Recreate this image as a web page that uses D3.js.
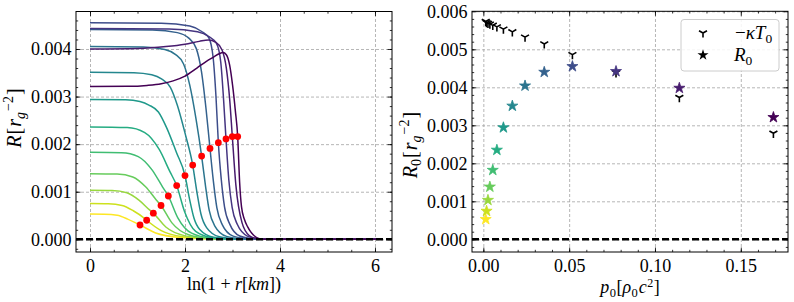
<!DOCTYPE html>
<html><head><meta charset="utf-8">
<script src="https://cdn.jsdelivr.net/npm/d3@7"></script>
<style>
body{margin:0;background:#fff;}
svg text{font-family:"Liberation Serif","DejaVu Serif",serif;fill:#000;}
</style></head><body>
<svg id="c" width="794" height="302"></svg>
<script>
// ---------------- DATA ----------------
// Left panel: R(r) profiles, one per central pressure (index 0 = lowest p0, yellow)
const profiles = [
 [[0,0.53e-3],[0.303,0.527e-3],[0.573,0.504e-3],[0.793,0.424e-3],[1.013,0.318e-3],[1.053,0.30e-3],[1.383,0.133e-3],[1.903,0.037e-3],[2.503,0.008e-3],[2.953,0.0016e-3],[3.6,0],[6.06,0]],
 [[0,0.75e-3],[0.385,0.746e-3],[0.675,0.7125e-3],[0.911,0.60e-3],[1.133,0.45e-3],[1.193,0.40e-3],[1.49,0.1875e-3],[1.953,0.0525e-3],[2.501,0.0113e-3],[2.943,0.0023e-3],[3.6,0],[6.06,0]],
 [[0,1.03e-3],[0.466,1.025e-3],[0.776,0.979e-3],[1.03,0.824e-3],[1.253,0.618e-3],[1.333,0.55e-3],[1.596,0.258e-3],[2.003,0.072e-3],[2.5,0.0155e-3],[2.933,0.0031e-3],[3.6,0],[6.06,0]],
 [[0,1.38e-3],[0.57,1.373e-3],[0.9,1.311e-3],[1.17,1.104e-3],[1.395,0.828e-3],[1.495,0.71e-3],[1.725,0.345e-3],[2.075,0.0966e-3],[2.52,0.0207e-3],[2.945,0.0041e-3],[3.6,0],[6.06,0]],
 [[0,1.83e-3],[0.666,1.821e-3],[1.016,1.739e-3],[1.302,1.464e-3],[1.529,1.098e-3],[1.649,0.91e-3],[1.846,0.4575e-3],[2.139,0.128e-3],[2.532,0.0275e-3],[2.949,0.0055e-3],[3.6,0],[6.06,0]],
 [[0,2.36e-3],[0.783,2.348e-3],[1.153,2.242e-3],[1.457,1.888e-3],[1.685,1.416e-3],[1.825,1.13e-3],[1.988,0.59e-3],[2.225,0.165e-3],[2.567,0.0354e-3],[2.975,0.0071e-3],[3.6,0],[6.06,0]],
 [[0,2.94e-3],[0.75,2.934e-3],[1.05,2.896e-3],[1.24,2.822e-3],[1.44,2.675e-3],[1.61,2.352e-3],[1.82,1.823e-3],[2.0,1.34e-3],[2.10,0.823e-3],[2.19,0.441e-3],[2.31,0.206e-3],[2.6,0.044e-3],[3.0,0.0088e-3],[3.6,0],[6.06,0]],
 [[0,3.51e-3],[0.9245,3.503e-3],[1.2995,3.457e-3],[1.5045,3.370e-3],[1.692,3.194e-3],[1.842,2.808e-3],[2.0145,2.176e-3],[2.162,1.56e-3],[2.252,0.983e-3],[2.337,0.5265e-3],[2.4545,0.2457e-3],[2.7245,0.0527e-3],[3.087,0.0105e-3],[3.6,0],[6.06,0]],
 [[0,4.05e-3],[1.125,4.042e-3],[1.575,3.989e-3],[1.795,3.888e-3],[1.97,3.686e-3],[2.10,3.24e-3],[2.235,2.511e-3],[2.35,1.75e-3],[2.43,1.134e-3],[2.51,0.6075e-3],[2.625,0.2835e-3],[2.875,0.0608e-3],[3.2,0.0122e-3],[3.6,0],[6.06,0]],
 [[0,4.41e-3],[1.3135,4.401e-3],[1.8385,4.344e-3],[2.0735,4.234e-3],[2.236,4.013e-3],[2.346,3.528e-3],[2.4435,2.734e-3],[2.526,1.91e-3],[2.596,1.235e-3],[2.671,0.6615e-3],[2.7835,0.3087e-3],[3.0135,0.066e-3],[3.301,0.0132e-3],[3.6,0],[6.06,0]],
 [[0,4.55e-3],[1.502,4.541e-3],[2.102,4.482e-3],[2.352,4.368e-3],[2.502,4.2315e-3],[2.592,3.822e-3],[2.652,3.003e-3],[2.702,2.03e-3],[2.762,1.274e-3],[2.832,0.6825e-3],[2.942,0.3185e-3],[3.152,0.068e-3],[3.402,0.0137e-3],[3.6,0],[6.06,0]],
 [[0,4.43e-3],[1.663,4.421e-3],[2.263,4.364e-3],[2.513,4.253e-3],[2.663,4.12e-3],[2.753,3.721e-3],[2.813,2.924e-3],[2.863,2.11e-3],[2.923,1.24e-3],[2.993,0.6645e-3],[3.103,0.31e-3],[3.313,0.0665e-3],[3.513,0.0133e-3],[3.6,0],[6.06,0]],
 [[0,4.00e-3],[1.0,4.01e-3],[1.6,4.05e-3],[2.0,4.10e-3],[2.3,4.16e-3],[2.49,4.19e-3],[2.65,4.14e-3],[2.78,3.98e-3],[2.87,3.6e-3],[2.94,2.95e-3],[2.996,2.16e-3],[3.07,1.15e-3],[3.2,0.35e-3],[3.35,0.08e-3],[3.5,0.015e-3],[3.6,0],[6.06,0]],
 [[0,3.21e-3],[0.8,3.215e-3],[1.2,3.235e-3],[1.5,3.27e-3],[1.75,3.33e-3],[2.0,3.43e-3],[2.25,3.6e-3],[2.45,3.74e-3],[2.6,3.83e-3],[2.72,3.9e-3],[2.8,3.925e-3],[2.87,3.88e-3],[2.94,3.66e-3],[3.0,3.25e-3],[3.06,2.7e-3],[3.109,2.16e-3],[3.15,1.2e-3],[3.19,0.68e-3],[3.25,0.42e-3],[3.32,0.26e-3],[3.38,0.16e-3],[3.44,0.09e-3],[3.5,0.04e-3],[3.58,0.005e-3],[3.6,0],[6.06,0]]
];
// Surface markers (red dots) on each profile
const surfX = [1.053,1.193,1.333,1.495,1.649,1.825,2.0,2.162,2.35,2.526,2.702,2.863,2.996,3.109];
const surfR = [0.30e-3,0.40e-3,0.55e-3,0.71e-3,0.91e-3,1.13e-3,1.34e-3,1.56e-3,1.75e-3,1.91e-3,2.03e-3,2.11e-3,2.16e-3,2.16e-3];
// Right panel
const p0 = [0.0014,0.0019,0.0027,0.0038,0.0055,0.0079,0.0117,0.0169,0.0243,0.0355,0.0519,0.0773,0.1142,0.169];
const R0 = [0.526e-3,0.744e-3,1.03e-3,1.38e-3,1.82e-3,2.35e-3,2.94e-3,3.51e-3,4.04e-3,4.40e-3,4.55e-3,4.42e-3,3.98e-3,3.21e-3];
const negKT0 = [5.73e-3,5.70e-3,5.68e-3,5.66e-3,5.63e-3,5.59e-3,5.53e-3,5.46e-3,5.32e-3,5.14e-3,4.86e-3,4.38e-3,3.73e-3,2.79e-3];
// Ticks
const xTicksL = [0,2,4,6];
const yTicksL = [0,0.001,0.002,0.003,0.004];
const xTicksR = [0,0.05,0.10,0.15];
const yTicksR = [0,0.001,0.002,0.003,0.004,0.005,0.006];

// ---------------- DRAW ----------------
const svg = d3.select("#c");
const n = profiles.length;
const color = i => d3.interpolateViridis(1 - i/(n-1));
const FS = 18;

const BL = {x0:76, x1:392, y0:11.5, y1:252};
const BR = {x0:472, x1:788, y0:11.3, y1:252};
const xL = d3.scaleLinear().domain([-0.295, 6.358]).range([BL.x0, BL.x1]);
const yL = d3.scaleLinear().domain([-0.000267, 0.004788]).range([BL.y1, BL.y0]);
const xR = d3.scaleLinear().domain([-0.0066, 0.1775]).range([BR.x0, BR.x1]);
const yR = d3.scaleLinear().domain([-0.000334, 0.006]).range([BR.y1, BR.y0]);

function inDom(s, vals){ const [a,b]=d3.extent(s.domain()); return vals.filter(v=>v>=a-1e-12&&v<=b+1e-12); }

function grid(g, B, x, y, xt, yt, id){
  const W=B.x1-B.x0, H=B.y1-B.y0;
  g.append("clipPath").attr("id",id).append("rect").attr("x",B.x0).attr("y",B.y0).attr("width",W).attr("height",H);
  const gx = g.append("g").attr("transform",`translate(0,${B.y1})`)
    .call(d3.axisBottom(x).tickValues(xt).tickSize(-H).tickFormat(""));
  const gy = g.append("g").attr("transform",`translate(${B.x0},0)`)
    .call(d3.axisLeft(y).tickValues(yt).tickSize(-W).tickFormat(""));
  [gx,gy].forEach(s=>{ s.select(".domain").remove(); s.selectAll("text").remove();
    s.selectAll("line").attr("stroke","#a3a3a3").attr("stroke-width",0.8).attr("stroke-dasharray","3,2"); });
}
function ticks(g, B, x, y, xt, yt, xminStep, yminStep, xfmt, yfmt){
  const [xa,xb]=x.domain(), [ya,yb]=y.domain();
  const xm = inDom(x, d3.range(Math.ceil(xa/xminStep)*xminStep, xb, xminStep).map(v=>+v.toFixed(6)));
  const ym = inDom(y, d3.range(Math.ceil(ya/yminStep)*yminStep, yb, yminStep).map(v=>+v.toFixed(7)));
  const ax = [
    [d3.axisBottom(x).tickValues(xt).tickSize(-4.5).tickPadding(7.5).tickFormat(xfmt), `translate(0,${B.y1})`, true],
    [d3.axisBottom(x).tickValues(xm).tickSize(-2.2).tickFormat(""), `translate(0,${B.y1})`, false],
    [d3.axisTop(x).tickValues(xt).tickSize(-4.5).tickFormat(""), `translate(0,${B.y0})`, false],
    [d3.axisTop(x).tickValues(xm).tickSize(-2.2).tickFormat(""), `translate(0,${B.y0})`, false],
    [d3.axisLeft(y).tickValues(yt).tickSize(-4.5).tickPadding(4.5).tickFormat(yfmt), `translate(${B.x0},0)`, true],
    [d3.axisLeft(y).tickValues(ym).tickSize(-2.2).tickFormat(""), `translate(${B.x0},0)`, false],
    [d3.axisRight(y).tickValues(yt).tickSize(-4.5).tickFormat(""), `translate(${B.x1},0)`, false],
    [d3.axisRight(y).tickValues(ym).tickSize(-2.2).tickFormat(""), `translate(${B.x1},0)`, false]
  ];
  ax.forEach(([a,t,lab])=>{
    const s=g.append("g").attr("transform",t).call(a);
    s.select(".domain").remove();
    s.selectAll("line").attr("stroke","#000").attr("stroke-width",0.8);
    if(!lab) s.selectAll("text").remove();
    else s.selectAll("text").attr("font-family","Liberation Serif, serif").attr("font-size",FS).attr("fill","#000");
  });
  g.append("rect").attr("x",B.x0).attr("y",B.y0).attr("width",B.x1-B.x0).attr("height",B.y1-B.y0)
    .attr("fill","none").attr("stroke","#000").attr("stroke-width",1);
}

// ----- Left panel -----
const gL = svg.append("g");
grid(gL, BL, xL, yL, xTicksL, yTicksL, "clipL");
const plotL = gL.append("g").attr("clip-path","url(#clipL)");
const line = d3.line().x(d=>xL(d[0])).y(d=>yL(d[1])).curve(d3.curveMonotoneX);
profiles.forEach((c,i)=>{
  plotL.append("path").attr("d",line(c)).attr("fill","none").attr("stroke",color(i)).attr("stroke-width",1.5);
});
plotL.append("line").attr("x1",BL.x0).attr("x2",BL.x1).attr("y1",yL(0)).attr("y2",yL(0))
  .attr("stroke","#000").attr("stroke-width",2.6).attr("stroke-dasharray","7,3");
plotL.selectAll("circle.s").data(surfX).enter().append("circle")
  .attr("cx",(d)=>xL(d)).attr("cy",(d,i)=>yL(surfR[i])).attr("r",3.4).attr("fill","#ff0000");
ticks(gL, BL, xL, yL, xTicksL, yTicksL, 0.5, 0.0002, d3.format("d"), d3.format(".3f"));

// ----- Right panel -----
const gR = svg.append("g");
grid(gR, BR, xR, yR, xTicksR, yTicksR, "clipR");
const plotR = gR.append("g").attr("clip-path","url(#clipR)");
plotR.append("line").attr("x1",BR.x0).attr("x2",BR.x1).attr("y1",yR(0)).attr("y2",yR(0))
  .attr("stroke","#000").attr("stroke-width",2.6).attr("stroke-dasharray","7,3");
const triR = 4.6;
const triPath = `M0,0L0,${triR}M0,0L${-0.866*triR},${-0.5*triR}M0,0L${0.866*triR},${-0.5*triR}`;
plotR.selectAll("path.t").data(p0).enter().append("path")
  .attr("d",triPath).attr("transform",(d,i)=>`translate(${xR(d)},${yR(negKT0[i])})`)
  .attr("fill","none").attr("stroke","#000").attr("stroke-width",1.6);
const star = d3.symbol(d3.symbolStar, 38);
plotR.selectAll("path.st").data(p0).enter().append("path")
  .attr("d",star).attr("transform",(d,i)=>`translate(${xR(d)},${yR(R0[i])})`)
  .attr("fill",(d,i)=>color(i)).attr("stroke",(d,i)=>color(i)).attr("stroke-width",0.8);
ticks(gR, BR, xR, yR, xTicksR, yTicksR, 0.01, 0.0002, d3.format(".2f"), d3.format(".3f"));

// Legend
const lg = svg.append("g");
lg.append("rect").attr("x",681).attr("y",19.5).attr("width",98).attr("height",51.5).attr("rx",3)
  .attr("fill","#fff").attr("fill-opacity",0.85).attr("stroke","#cccccc").attr("stroke-width",1);
lg.append("path").attr("d",triPath).attr("transform","translate(703,33)").attr("fill","none").attr("stroke","#000").attr("stroke-width",1.6);
lg.append("path").attr("d",star).attr("transform","translate(703,55)").attr("fill","#000");
const t1 = lg.append("text").attr("x",735).attr("y",39).attr("font-size",19);
t1.append("tspan").text("−");
t1.append("tspan").attr("font-style","italic").text("κT");
t1.append("tspan").attr("font-size",13.5).attr("dy",4).text("0");
const t2 = lg.append("text").attr("x",734).attr("y",61).attr("font-size",19);
t2.append("tspan").attr("font-style","italic").text("R");
t2.append("tspan").attr("font-size",13.5).attr("dy",4).text("0");

// Axis labels
const xl1 = svg.append("text").attr("x",(BL.x0+BL.x1)/2).attr("y",290).attr("text-anchor","middle").attr("font-size",FS);
xl1.append("tspan").text("ln(1 + ");
xl1.append("tspan").attr("font-style","italic").text("r");
xl1.append("tspan").text("[");
xl1.append("tspan").attr("font-style","italic").text("km");
xl1.append("tspan").text("])");

const yl1 = svg.append("text").attr("transform",`translate(21,118) rotate(-90)`).attr("text-anchor","middle").attr("font-size",20);
yl1.append("tspan").attr("font-style","italic").text("R");
yl1.append("tspan").attr("dx",1).text("[");
yl1.append("tspan").attr("font-style","italic").attr("dx",1).text("r");
yl1.append("tspan").attr("font-style","italic").attr("font-size",14).attr("dy",4).text("g");
yl1.append("tspan").attr("font-size",14).attr("dx",1).attr("dy",-12).text("−2");
yl1.append("tspan").attr("dx",1).attr("dy",8).text("]");

const xl2 = svg.append("text").attr("x",(BR.x0+BR.x1)/2).attr("y",293).attr("text-anchor","middle").attr("font-size",FS);
xl2.append("tspan").attr("font-style","italic").text("p");
xl2.append("tspan").attr("font-size",12.5).attr("dx",0.5).attr("dy",4).text("0");
xl2.append("tspan").attr("dx",0.5).attr("dy",-4).text("[");
xl2.append("tspan").attr("font-style","italic").text("ρ");
xl2.append("tspan").attr("font-size",12.5).attr("dx",0.5).attr("dy",4).text("0");
xl2.append("tspan").attr("font-style","italic").attr("dx",1).attr("dy",-4).text("c");
xl2.append("tspan").attr("font-size",12).attr("dx",0.5).attr("dy",-6).text("2");
xl2.append("tspan").attr("dx",0.5).attr("dy",6).text("]");

const yl2 = svg.append("text").attr("transform",`translate(417,145) rotate(-90)`).attr("text-anchor","middle").attr("font-size",20);
yl2.append("tspan").attr("font-style","italic").text("R");
yl2.append("tspan").attr("font-size",14).attr("dy",4).text("0");
yl2.append("tspan").attr("dx",1).attr("dy",-4).text("[");
yl2.append("tspan").attr("font-style","italic").attr("dx",1).text("r");
yl2.append("tspan").attr("font-style","italic").attr("font-size",14).attr("dy",4).text("g");
yl2.append("tspan").attr("font-size",14).attr("dx",1).attr("dy",-12).text("−2");
yl2.append("tspan").attr("dx",1).attr("dy",8).text("]");
</script></body></html>
